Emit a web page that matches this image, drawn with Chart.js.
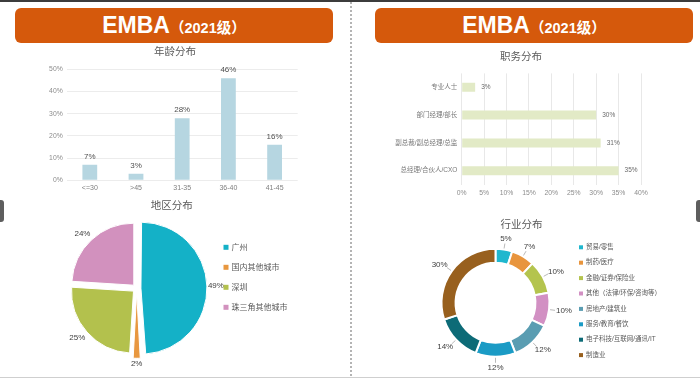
<!DOCTYPE html>
<html>
<head>
<meta charset="utf-8">
<script src="https://cdn.jsdelivr.net/npm/chart.js@4.4.1/dist/chart.umd.min.js"></script>
<style>
  html, body { margin: 0; padding: 0; background: #fff; }
  #page { position: relative; width: 700px; height: 380px; overflow: hidden; background: #fff;
          font-family: "Liberation Sans", "Noto Sans CJK SC", sans-serif; }
  .topline { position: absolute; left: 0; top: 0; width: 700px; height: 2px; background: #3c3c3c; }
  .banner { position: absolute; height: 35px; background: #d5590c; border-radius: 6px; color: #fff;
            text-align: center; line-height: 35px; font-weight: bold; white-space: nowrap; }
  .banner .big { font-size: 23px; }
  .banner .small { font-size: 14.5px; }
  .divider { position: absolute; left: 350px; top: 2px; width: 1.5px; height: 376px;
             background: repeating-linear-gradient(to bottom, #b4b4b4 0 2px, transparent 2px 4px); }
  .bottomline { position: absolute; left: 0; top: 377px; width: 700px; height: 1px; background: #cfcfcf; }
  .tab { position: absolute; top: 200px; width: 4px; height: 22px; background: #5e5e5e; }
  canvas { position: absolute; left: 0; top: 0; }
</style>
</head>
<body>
<div id="page">
  <div class="topline"></div>
  <div class="banner" style="left:15px;top:8px;width:318px;"><span class="big">EMBA</span><span class="small">（2021级）</span></div>
  <div class="banner" style="left:375px;top:7.5px;width:318px;"><span class="big">EMBA</span><span class="small">（2021级）</span></div>
  <div class="divider"></div>
  <div class="bottomline"></div>
  <div class="tab" style="left:0;border-radius:0 3px 3px 0;"></div>
  <div class="tab" style="left:696px;border-radius:3px 0 0 3px;"></div>
  <canvas id="ageChart" width="700" height="380"></canvas>
  <canvas id="roleChart" width="700" height="380"></canvas>
  <canvas id="regionChart" width="700" height="380"></canvas>
  <canvas id="industryChart" width="700" height="380"></canvas>
</div>
<script>
const FONT = '"Liberation Sans", "Noto Sans CJK SC", sans-serif';

// 年龄分布
const ageLabels = ['<=30', '>45', '31-35', '36-40', '41-45'];
const ageValues = [7, 3, 28, 46, 16];
const ageTicks = [0, 5, 10, 15, 20, 25, 30, 35, 40, 45, 50];

// 职务分布
const roleLabels = ['专业人士', '部门经理/部长', '副总裁/副总经理/总监', '总经理/合伙人/CXO'];
const roleValues = [3, 30, 31, 35];
const roleTicks = [0, 5, 10, 15, 20, 25, 30, 35, 40];

// 地区分布
const regionLabels = ['广州', '国内其他城市', '深圳', '珠三角其他城市'];
const regionValues = [49, 2, 25, 24];
const regionColors = ['#14b1c7', '#e8973f', '#b3c14d', '#d291be'];

// 行业分布
const industryLabels = ['贸易/零售', '制药/医疗', '金融/证券/保险业', '其他（法律/环保/咨询等）',
  '房地产/建筑业', '服务/教育/餐饮', '电子科技/互联网/通讯/IT', '制造业'];
const industryValues = [5, 7, 10, 10, 12, 12, 14, 30];
const industryColors = ['#1fb7ce', '#e8953d', '#b4c44e', '#d290c3', '#5a9db2', '#1b9bc5', '#0d6b77', '#98601e'];

const pct = v => v + '%';

// titles and legends drawn on top of each chart
const panelText = {
  id: 'panelText',
  afterDraw(chart, args, opts) {
    const ctx = chart.ctx;
    ctx.save();
    if (opts.title) {
      ctx.font = opts.title.size + 'px ' + FONT;
      ctx.fillStyle = '#595959';
      ctx.textAlign = 'center';
      ctx.textBaseline = 'middle';
      ctx.fillText(opts.title.text, opts.title.x, opts.title.y);
    }
    if (opts.legend) {
      const lg = opts.legend;
      const colors = chart.data.datasets[0].backgroundColor;
      ctx.font = lg.size + 'px ' + FONT;
      ctx.textAlign = 'left';
      ctx.textBaseline = 'middle';
      chart.data.labels.forEach((label, i) => {
        const y = lg.y + i * lg.step;
        ctx.fillStyle = colors[i];
        ctx.fillRect(lg.x - lg.box / 2, y - lg.box / 2, lg.box, lg.box);
        ctx.fillStyle = '#595959';
        ctx.fillText(label, lg.x + lg.box / 2 + 3, y);
      });
    }
    ctx.restore();
  }
};

// percentage labels next to bars / slices
const valueLabels = {
  id: 'valueLabels',
  afterDatasetsDraw(chart, args, opts) {
    const ctx = chart.ctx;
    const values = chart.data.datasets[0].data;
    ctx.save();
    ctx.font = opts.size + 'px ' + FONT;
    ctx.fillStyle = opts.color;
    chart.getDatasetMeta(0).data.forEach((el, i) => {
      const text = pct(values[i]);
      if (opts.mode === 'top') {
        ctx.textAlign = 'center';
        ctx.textBaseline = 'bottom';
        ctx.fillText(text, el.x, el.y - opts.gap);
      } else if (opts.mode === 'end') {
        ctx.textAlign = 'left';
        ctx.textBaseline = 'middle';
        ctx.fillText(text, el.x + opts.gap, el.y);
      } else {
        const mid = (el.startAngle + el.endAngle) / 2;
        const dx = Math.cos(mid), dy = Math.sin(mid);
        const r = el.outerRadius + (el.options.offset || 0) / 4;
        const d = r + opts.gap;
        const w = ctx.measureText(text).width;
        if (opts.leader) {
          ctx.strokeStyle = '#a8a8a8';
          ctx.lineWidth = 0.8;
          ctx.beginPath();
          ctx.moveTo(el.x + dx * (r + 1), el.y + dy * (r + 1));
          ctx.lineTo(el.x + dx * (d - 1), el.y + dy * (d - 1));
          ctx.stroke();
        }
        ctx.textAlign = 'center';
        ctx.textBaseline = 'middle';
        ctx.fillText(text, el.x + dx * (d + w / 2), el.y + dy * (d + opts.size / 2));
      }
    });
    ctx.restore();
  }
};

Chart.defaults.font.family = FONT;
Chart.defaults.animation = false;
Chart.defaults.responsive = false;
Chart.defaults.plugins.legend.display = false;
Chart.defaults.plugins.tooltip.enabled = false;

new Chart(document.getElementById('ageChart'), {
  type: 'bar',
  data: {
    labels: ageLabels,
    datasets: [{ data: ageValues, backgroundColor: '#b6d6e1', categoryPercentage: 0.8, barPercentage: 0.4 }]
  },
  options: {
    layout: { padding: { left: 36.7, right: 402.3, top: 69.3, bottom: 183.7 } },
    plugins: {
      panelText: { title: { text: '年龄分布', x: 175, y: 52.5, size: 10.5 } },
      valueLabels: { mode: 'top', size: 8, color: '#505050', gap: 4 }
    },
    scales: {
      x: {
        grid: { display: false, drawTicks: false },
        border: { display: false },
        ticks: { color: '#7f7f7f', font: { size: 7 }, padding: 4 },
        afterFit: s => { s.height = 16; }
      },
      y: {
        min: 0, max: 50,
        afterBuildTicks: s => { s.ticks = ageTicks.map(v => ({ value: v })); },
        grid: { color: '#ececec', drawTicks: false },
        border: { display: false },
        ticks: { color: '#8c8c8c', font: { size: 6.8 }, padding: 4, callback: pct },
        afterFit: s => { s.width = 30; }
      }
    }
  },
  plugins: [panelText, valueLabels]
});

new Chart(document.getElementById('roleChart'), {
  type: 'bar',
  data: {
    labels: roleLabels,
    datasets: [{ data: roleValues, backgroundColor: '#e2eac6', categoryPercentage: 0.8, barPercentage: 0.405 }]
  },
  options: {
    indexAxis: 'y',
    layout: { padding: { left: 361.7, right: 59, top: 73.4, bottom: 179.4 } },
    plugins: {
      panelText: { title: { text: '职务分布', x: 521, y: 57.3, size: 10.5 } },
      valueLabels: { mode: 'end', size: 6.5, color: '#6a6a6a', gap: 6 }
    },
    scales: {
      x: {
        min: 0, max: 40,
        afterBuildTicks: s => { s.ticks = roleTicks.map(v => ({ value: v })); },
        grid: { color: '#e8e8e8', drawTicks: false },
        border: { display: false },
        ticks: { color: '#8c8c8c', font: { size: 6.8 }, padding: 4, callback: pct },
        afterFit: s => { s.height = 16; }
      },
      y: {
        grid: { display: false, drawTicks: false },
        border: { display: false },
        ticks: { color: '#7a7a7a', font: { size: 6.5 }, padding: 4.4 },
        afterFit: s => { s.width = 100; }
      }
    }
  },
  plugins: [panelText, valueLabels]
});

new Chart(document.getElementById('regionChart'), {
  type: 'pie',
  data: {
    labels: regionLabels,
    datasets: [{ data: regionValues, backgroundColor: regionColors, borderColor: '#ffffff', borderWidth: 1, offset: 17, radius: 62 }]
  },
  options: {
    layout: { padding: { left: 61.7, right: 488.3, top: 213.3, bottom: 16.7 } },
    plugins: {
      panelText: {
        title: { text: '地区分布', x: 171.7, y: 205.7, size: 10.5 },
        legend: { x: 226, y: 247.3, step: 20, box: 5, size: 8 }
      },
      valueLabels: { mode: 'arc', size: 8, color: '#404040', gap: 5 }
    }
  },
  plugins: [valueLabels, panelText]
});

new Chart(document.getElementById('industryChart'), {
  type: 'doughnut',
  data: {
    labels: industryLabels,
    datasets: [{ data: industryValues, backgroundColor: industryColors, borderColor: '#ffffff', borderWidth: 2, radius: 54, cutout: '74%' }]
  },
  options: {
    layout: { padding: { left: 435.5, right: 144.5, top: 242.8, bottom: 17.2 } },
    plugins: {
      panelText: {
        title: { text: '行业分布', x: 521.5, y: 225, size: 10.5 },
        legend: { x: 581, y: 247.3, step: 15.4, box: 4, size: 6.5 }
      },
      valueLabels: { mode: 'arc', size: 8, color: '#404040', gap: 7, leader: true }
    }
  },
  plugins: [panelText, valueLabels]
});
</script>
</body>
</html>
